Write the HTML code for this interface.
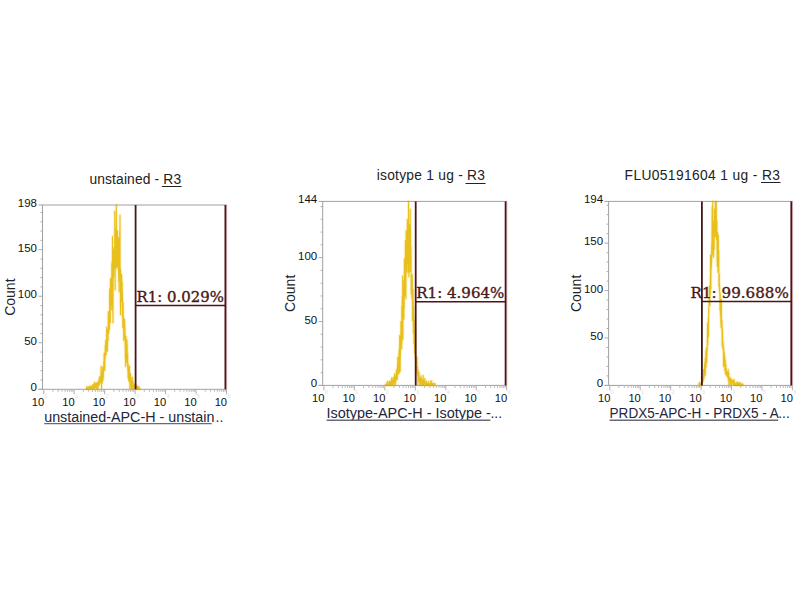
<!DOCTYPE html>
<html><head><meta charset="utf-8"><title>Flow cytometry histograms</title>
<style>
html,body{margin:0;padding:0;background:#fff;}
body{width:800px;height:600px;overflow:hidden;}
svg{display:block;}
.t{font-family:"Liberation Sans",Arial,sans-serif;}
.s{font-family:"DejaVu Serif","Liberation Serif",serif;}
</style></head><body>
<svg width="800" height="600" viewBox="0 0 800 600">
<rect width="800" height="600" fill="#fff"/>
<g><text class="t" x="89.4" y="183.6" font-size="13.8" fill="#222" textLength="91.7" lengthAdjust="spacing">unstained - R3</text>
<line x1="161.9" y1="186.5" x2="181.6" y2="186.5" stroke="#222" stroke-width="1"/>
<polyline points="86.1,389.0 86.2,388.8 86.3,388.2 86.5,389.3 86.6,388.3 86.7,388.3 86.8,386.6 87.0,389.2 87.1,389.3 87.2,388.1 87.3,389.2 87.5,388.5 87.6,388.6 87.7,387.5 87.8,389.3 88.0,388.8 88.1,389.3 88.2,389.3 88.3,386.9 88.5,389.3 88.6,389.3 88.7,389.3 88.8,387.9 89.0,388.3 89.1,389.3 89.2,387.7 89.3,388.2 89.5,387.5 89.6,389.3 89.7,386.1 89.8,387.8 90.0,388.5 90.1,389.1 90.2,388.7 90.3,387.1 90.5,388.7 90.6,386.6 90.7,387.3 90.8,386.1 91.0,386.9 91.1,388.2 91.2,389.3 91.3,387.6 91.5,386.7 91.6,387.7 91.7,387.0 91.8,388.7 92.0,388.5 92.1,389.3 92.2,385.4 92.3,387.5 92.5,388.6 92.6,389.3 92.7,387.9 92.8,384.9 93.0,386.7 93.1,388.9 93.2,384.6 93.3,384.6 93.5,385.4 93.6,385.7 93.7,384.9 93.8,386.1 94.0,385.5 94.1,388.8 94.2,383.8 94.3,386.5 94.5,382.4 94.6,389.3 94.7,385.2 94.8,384.4 95.0,387.5 95.1,385.5 95.2,384.7 95.3,385.0 95.5,387.7 95.6,386.6 95.7,383.6 95.8,382.8 96.0,385.8 96.1,385.7 96.2,385.3 96.3,382.9 96.5,388.6 96.6,389.3 96.7,385.1 96.8,388.5 97.0,386.9 97.1,384.9 97.2,383.6 97.3,388.1 97.5,382.3 97.6,389.3 97.7,382.8 97.8,389.3 98.0,388.4 98.1,381.9 98.2,385.3 98.3,386.5 98.5,385.1 98.6,381.8 98.7,383.4 98.8,383.2 99.0,379.0 99.1,385.4 99.2,384.3 99.3,384.3 99.5,377.5 99.6,377.9 99.7,376.5 99.8,381.5 100.0,381.8 100.1,377.3 100.2,382.3 100.3,376.7 100.5,376.9 100.6,382.9 100.7,379.8 100.8,379.7 101.0,370.7 101.1,366.2 101.2,378.6 101.3,377.7 101.5,388.8 101.6,375.9 101.7,376.7 101.8,381.8 102.0,371.6 102.1,383.8 102.2,376.1 102.3,373.6 102.5,381.0 102.6,368.5 102.7,366.7 102.8,380.6 103.0,380.3 103.1,367.5 103.2,370.8 103.3,377.7 103.5,371.3 103.6,369.5 103.7,369.0 103.8,361.8 104.0,364.1 104.1,353.6 104.2,355.5 104.3,359.6 104.5,355.8 104.6,353.0 104.7,356.7 104.8,370.6 105.0,353.6 105.1,358.8 105.2,345.5 105.3,356.7 105.5,352.2 105.6,352.8 105.7,340.2 105.8,352.0 106.0,354.8 106.1,348.6 106.2,354.2 106.3,347.6 106.5,348.0 106.6,344.2 106.7,327.1 106.8,348.2 107.0,342.7 107.1,343.8 107.2,333.7 107.3,351.3 107.5,345.0 107.6,336.9 107.7,329.2 107.8,334.2 108.0,337.7 108.1,340.4 108.2,323.6 108.3,311.5 108.5,322.6 108.6,322.7 108.7,318.1 108.8,333.0 109.0,324.0 109.1,321.9 109.2,313.4 109.3,315.9 109.5,329.1 109.6,297.9 109.7,288.9 109.8,312.4 110.0,302.1 110.1,302.2 110.2,293.6 110.3,322.4 110.5,278.8 110.6,305.6 110.7,280.0 110.8,294.7 111.0,299.7 111.1,294.6 111.2,278.1 111.3,301.9 111.5,293.3 111.6,293.3 111.7,310.0 111.8,263.7 112.0,272.9 112.1,280.4 112.2,260.8 112.3,291.7 112.5,236.6 112.6,247.4 112.7,257.5 112.8,306.4 113.0,322.7 113.1,285.3 113.2,250.5 113.3,273.8 113.5,268.6 113.6,254.0 113.7,277.2 113.8,258.2 114.0,247.6 114.1,251.9 114.2,252.1 114.3,267.7 114.5,248.3 114.6,263.1 114.7,233.3 114.8,211.3 115.0,266.3 115.1,289.9 115.2,259.8 115.3,245.6 115.5,233.7 115.6,232.8 115.7,264.1 115.8,264.0 116.0,228.5 116.1,268.6 116.2,231.2 116.3,205.0 116.5,236.6 116.6,237.6 116.7,236.5 116.8,235.9 117.0,267.0 117.1,245.3 117.2,250.5 117.3,245.9 117.5,230.7 117.6,256.7 117.7,264.8 117.8,265.7 118.0,259.3 118.1,242.2 118.2,269.3 118.3,237.2 118.5,252.7 118.6,262.2 118.7,281.5 118.8,256.6 119.0,250.4 119.1,291.7 119.2,244.9 119.3,238.9 119.5,261.4 119.6,260.3 119.7,231.3 119.8,251.6 120.0,215.2 120.1,274.2 120.2,277.9 120.3,279.4 120.5,314.7 120.6,268.9 120.7,291.5 120.8,281.2 121.0,287.4 121.1,274.3 121.2,293.1 121.3,302.0 121.5,284.7 121.6,274.2 121.7,300.3 121.8,278.7 122.0,295.8 122.1,308.5 122.2,282.5 122.3,315.7 122.5,293.3 122.6,314.9 122.7,304.4 122.8,327.7 123.0,324.3 123.1,302.3 123.2,314.9 123.3,318.5 123.5,326.0 123.6,317.1 123.7,340.4 123.8,338.7 124.0,329.2 124.1,338.5 124.2,338.5 124.3,333.1 124.5,335.4 124.6,337.8 124.7,319.5 124.8,328.1 125.0,327.5 125.1,341.7 125.2,347.8 125.3,358.4 125.5,349.0 125.6,366.6 125.7,353.7 125.8,342.7 126.0,336.4 126.1,343.6 126.2,360.8 126.3,350.3 126.5,362.3 126.6,350.1 126.7,358.8 126.8,352.2 127.0,339.9 127.1,354.0 127.2,344.5 127.3,361.7 127.5,366.4 127.6,355.4 127.7,353.7 127.8,370.5 128.0,367.0 128.1,377.8 128.2,370.4 128.3,364.2 128.5,371.1 128.6,374.8 128.7,380.5 128.8,370.5 129.0,368.7 129.1,370.5 129.2,373.1 129.3,382.1 129.5,366.3 129.6,376.5 129.7,377.5 129.8,373.6 130.0,388.4 130.1,378.5 130.2,379.3 130.3,377.4 130.5,373.4 130.6,377.8 130.7,388.2 130.8,382.1 131.0,380.2 131.1,380.8 131.2,386.8 131.3,388.5 131.5,380.2 131.6,381.3 131.7,383.0 131.8,389.3 132.0,377.2 132.1,389.3 132.2,385.1 132.3,377.2 132.5,384.8 132.6,383.8 132.7,388.4 132.8,380.8 133.0,388.9 133.1,384.6 133.2,385.1 133.3,388.5 133.5,383.4 133.6,389.3 133.7,387.8 133.8,386.3 134.0,387.4 134.1,385.3 134.2,384.4 134.4,387.4 134.5,388.0 134.6,388.1 134.7,387.8 134.9,385.4 135.0,387.6 135.1,386.4 135.2,387.5 135.4,389.1 135.5,385.9 135.6,389.3 135.7,387.7 135.9,385.0 136.0,389.3 136.1,388.0 136.2,389.3 136.4,388.8 136.5,389.3 136.6,388.7 136.7,389.0 136.9,388.0 137.0,385.8 137.1,387.9 137.2,387.4 137.4,388.4 137.5,388.7 137.6,389.3 137.7,389.3 137.9,388.4 138.0,386.5 138.1,388.0 138.2,389.2 138.4,386.7 138.5,389.2 138.6,389.3 138.7,389.3 138.9,389.3 139.0,389.0 139.1,386.7 139.2,389.0 139.4,389.3 139.5,389.3 139.6,389.1 139.7,389.3 139.9,388.8 140.0,388.3 140.1,388.6" fill="none" stroke="#f8e27c" stroke-width="3" stroke-linejoin="round" opacity="0.45"/>
<polyline points="86.1,389.0 86.2,388.8 86.3,388.2 86.5,389.3 86.6,388.3 86.7,388.3 86.8,386.6 87.0,389.2 87.1,389.3 87.2,388.1 87.3,389.2 87.5,388.5 87.6,388.6 87.7,387.5 87.8,389.3 88.0,388.8 88.1,389.3 88.2,389.3 88.3,386.9 88.5,389.3 88.6,389.3 88.7,389.3 88.8,387.9 89.0,388.3 89.1,389.3 89.2,387.7 89.3,388.2 89.5,387.5 89.6,389.3 89.7,386.1 89.8,387.8 90.0,388.5 90.1,389.1 90.2,388.7 90.3,387.1 90.5,388.7 90.6,386.6 90.7,387.3 90.8,386.1 91.0,386.9 91.1,388.2 91.2,389.3 91.3,387.6 91.5,386.7 91.6,387.7 91.7,387.0 91.8,388.7 92.0,388.5 92.1,389.3 92.2,385.4 92.3,387.5 92.5,388.6 92.6,389.3 92.7,387.9 92.8,384.9 93.0,386.7 93.1,388.9 93.2,384.6 93.3,384.6 93.5,385.4 93.6,385.7 93.7,384.9 93.8,386.1 94.0,385.5 94.1,388.8 94.2,383.8 94.3,386.5 94.5,382.4 94.6,389.3 94.7,385.2 94.8,384.4 95.0,387.5 95.1,385.5 95.2,384.7 95.3,385.0 95.5,387.7 95.6,386.6 95.7,383.6 95.8,382.8 96.0,385.8 96.1,385.7 96.2,385.3 96.3,382.9 96.5,388.6 96.6,389.3 96.7,385.1 96.8,388.5 97.0,386.9 97.1,384.9 97.2,383.6 97.3,388.1 97.5,382.3 97.6,389.3 97.7,382.8 97.8,389.3 98.0,388.4 98.1,381.9 98.2,385.3 98.3,386.5 98.5,385.1 98.6,381.8 98.7,383.4 98.8,383.2 99.0,379.0 99.1,385.4 99.2,384.3 99.3,384.3 99.5,377.5 99.6,377.9 99.7,376.5 99.8,381.5 100.0,381.8 100.1,377.3 100.2,382.3 100.3,376.7 100.5,376.9 100.6,382.9 100.7,379.8 100.8,379.7 101.0,370.7 101.1,366.2 101.2,378.6 101.3,377.7 101.5,388.8 101.6,375.9 101.7,376.7 101.8,381.8 102.0,371.6 102.1,383.8 102.2,376.1 102.3,373.6 102.5,381.0 102.6,368.5 102.7,366.7 102.8,380.6 103.0,380.3 103.1,367.5 103.2,370.8 103.3,377.7 103.5,371.3 103.6,369.5 103.7,369.0 103.8,361.8 104.0,364.1 104.1,353.6 104.2,355.5 104.3,359.6 104.5,355.8 104.6,353.0 104.7,356.7 104.8,370.6 105.0,353.6 105.1,358.8 105.2,345.5 105.3,356.7 105.5,352.2 105.6,352.8 105.7,340.2 105.8,352.0 106.0,354.8 106.1,348.6 106.2,354.2 106.3,347.6 106.5,348.0 106.6,344.2 106.7,327.1 106.8,348.2 107.0,342.7 107.1,343.8 107.2,333.7 107.3,351.3 107.5,345.0 107.6,336.9 107.7,329.2 107.8,334.2 108.0,337.7 108.1,340.4 108.2,323.6 108.3,311.5 108.5,322.6 108.6,322.7 108.7,318.1 108.8,333.0 109.0,324.0 109.1,321.9 109.2,313.4 109.3,315.9 109.5,329.1 109.6,297.9 109.7,288.9 109.8,312.4 110.0,302.1 110.1,302.2 110.2,293.6 110.3,322.4 110.5,278.8 110.6,305.6 110.7,280.0 110.8,294.7 111.0,299.7 111.1,294.6 111.2,278.1 111.3,301.9 111.5,293.3 111.6,293.3 111.7,310.0 111.8,263.7 112.0,272.9 112.1,280.4 112.2,260.8 112.3,291.7 112.5,236.6 112.6,247.4 112.7,257.5 112.8,306.4 113.0,322.7 113.1,285.3 113.2,250.5 113.3,273.8 113.5,268.6 113.6,254.0 113.7,277.2 113.8,258.2 114.0,247.6 114.1,251.9 114.2,252.1 114.3,267.7 114.5,248.3 114.6,263.1 114.7,233.3 114.8,211.3 115.0,266.3 115.1,289.9 115.2,259.8 115.3,245.6 115.5,233.7 115.6,232.8 115.7,264.1 115.8,264.0 116.0,228.5 116.1,268.6 116.2,231.2 116.3,205.0 116.5,236.6 116.6,237.6 116.7,236.5 116.8,235.9 117.0,267.0 117.1,245.3 117.2,250.5 117.3,245.9 117.5,230.7 117.6,256.7 117.7,264.8 117.8,265.7 118.0,259.3 118.1,242.2 118.2,269.3 118.3,237.2 118.5,252.7 118.6,262.2 118.7,281.5 118.8,256.6 119.0,250.4 119.1,291.7 119.2,244.9 119.3,238.9 119.5,261.4 119.6,260.3 119.7,231.3 119.8,251.6 120.0,215.2 120.1,274.2 120.2,277.9 120.3,279.4 120.5,314.7 120.6,268.9 120.7,291.5 120.8,281.2 121.0,287.4 121.1,274.3 121.2,293.1 121.3,302.0 121.5,284.7 121.6,274.2 121.7,300.3 121.8,278.7 122.0,295.8 122.1,308.5 122.2,282.5 122.3,315.7 122.5,293.3 122.6,314.9 122.7,304.4 122.8,327.7 123.0,324.3 123.1,302.3 123.2,314.9 123.3,318.5 123.5,326.0 123.6,317.1 123.7,340.4 123.8,338.7 124.0,329.2 124.1,338.5 124.2,338.5 124.3,333.1 124.5,335.4 124.6,337.8 124.7,319.5 124.8,328.1 125.0,327.5 125.1,341.7 125.2,347.8 125.3,358.4 125.5,349.0 125.6,366.6 125.7,353.7 125.8,342.7 126.0,336.4 126.1,343.6 126.2,360.8 126.3,350.3 126.5,362.3 126.6,350.1 126.7,358.8 126.8,352.2 127.0,339.9 127.1,354.0 127.2,344.5 127.3,361.7 127.5,366.4 127.6,355.4 127.7,353.7 127.8,370.5 128.0,367.0 128.1,377.8 128.2,370.4 128.3,364.2 128.5,371.1 128.6,374.8 128.7,380.5 128.8,370.5 129.0,368.7 129.1,370.5 129.2,373.1 129.3,382.1 129.5,366.3 129.6,376.5 129.7,377.5 129.8,373.6 130.0,388.4 130.1,378.5 130.2,379.3 130.3,377.4 130.5,373.4 130.6,377.8 130.7,388.2 130.8,382.1 131.0,380.2 131.1,380.8 131.2,386.8 131.3,388.5 131.5,380.2 131.6,381.3 131.7,383.0 131.8,389.3 132.0,377.2 132.1,389.3 132.2,385.1 132.3,377.2 132.5,384.8 132.6,383.8 132.7,388.4 132.8,380.8 133.0,388.9 133.1,384.6 133.2,385.1 133.3,388.5 133.5,383.4 133.6,389.3 133.7,387.8 133.8,386.3 134.0,387.4 134.1,385.3 134.2,384.4 134.4,387.4 134.5,388.0 134.6,388.1 134.7,387.8 134.9,385.4 135.0,387.6 135.1,386.4 135.2,387.5 135.4,389.1 135.5,385.9 135.6,389.3 135.7,387.7 135.9,385.0 136.0,389.3 136.1,388.0 136.2,389.3 136.4,388.8 136.5,389.3 136.6,388.7 136.7,389.0 136.9,388.0 137.0,385.8 137.1,387.9 137.2,387.4 137.4,388.4 137.5,388.7 137.6,389.3 137.7,389.3 137.9,388.4 138.0,386.5 138.1,388.0 138.2,389.2 138.4,386.7 138.5,389.2 138.6,389.3 138.7,389.3 138.9,389.3 139.0,389.0 139.1,386.7 139.2,389.0 139.4,389.3 139.5,389.3 139.6,389.1 139.7,389.3 139.9,388.8 140.0,388.3 140.1,388.6" fill="none" stroke="#e8bf1c" stroke-width="1.05" stroke-linejoin="round"/>
<line x1="38.5" y1="205" x2="226.9" y2="205" stroke="#a0a0a0" stroke-width="1"/>
<line x1="42.5" y1="205" x2="42.5" y2="389.3" stroke="#a0a0a0" stroke-width="1"/>
<line x1="38.5" y1="389.3" x2="226.7" y2="389.3" stroke="#a0a0a0" stroke-width="1"/>
<line x1="38.5" y1="389.3" x2="42.5" y2="389.3" stroke="#aaa" stroke-width="1"/>
<line x1="40.5" y1="379.99" x2="42.5" y2="379.99" stroke="#aaa" stroke-width="1"/>
<line x1="40.5" y1="370.68" x2="42.5" y2="370.68" stroke="#aaa" stroke-width="1"/>
<line x1="40.5" y1="361.38" x2="42.5" y2="361.38" stroke="#aaa" stroke-width="1"/>
<line x1="40.5" y1="352.07" x2="42.5" y2="352.07" stroke="#aaa" stroke-width="1"/>
<line x1="38.5" y1="342.76" x2="42.5" y2="342.76" stroke="#aaa" stroke-width="1"/>
<line x1="40.5" y1="333.45" x2="42.5" y2="333.45" stroke="#aaa" stroke-width="1"/>
<line x1="40.5" y1="324.14" x2="42.5" y2="324.14" stroke="#aaa" stroke-width="1"/>
<line x1="40.5" y1="314.84" x2="42.5" y2="314.84" stroke="#aaa" stroke-width="1"/>
<line x1="40.5" y1="305.53" x2="42.5" y2="305.53" stroke="#aaa" stroke-width="1"/>
<line x1="38.5" y1="296.22" x2="42.5" y2="296.22" stroke="#aaa" stroke-width="1"/>
<line x1="40.5" y1="286.91" x2="42.5" y2="286.91" stroke="#aaa" stroke-width="1"/>
<line x1="40.5" y1="277.6" x2="42.5" y2="277.6" stroke="#aaa" stroke-width="1"/>
<line x1="40.5" y1="268.29" x2="42.5" y2="268.29" stroke="#aaa" stroke-width="1"/>
<line x1="40.5" y1="258.99" x2="42.5" y2="258.99" stroke="#aaa" stroke-width="1"/>
<line x1="38.5" y1="249.68" x2="42.5" y2="249.68" stroke="#aaa" stroke-width="1"/>
<line x1="40.5" y1="240.37" x2="42.5" y2="240.37" stroke="#aaa" stroke-width="1"/>
<line x1="40.5" y1="231.06" x2="42.5" y2="231.06" stroke="#aaa" stroke-width="1"/>
<line x1="40.5" y1="221.75" x2="42.5" y2="221.75" stroke="#aaa" stroke-width="1"/>
<line x1="40.5" y1="212.45" x2="42.5" y2="212.45" stroke="#aaa" stroke-width="1"/>
<text class="t" x="37" y="391.3" font-size="11.5" fill="#111" text-anchor="end">0</text>
<text class="t" x="37" y="344.76" font-size="11.5" fill="#111" text-anchor="end">50</text>
<text class="t" x="37" y="298.22" font-size="11.5" fill="#111" text-anchor="end">100</text>
<text class="t" x="37" y="251.68" font-size="11.5" fill="#111" text-anchor="end">150</text>
<text class="t" x="37" y="207" font-size="11.5" fill="#111" text-anchor="end">198</text>
<line x1="43.7" y1="389.3" x2="43.7" y2="394.3" stroke="#b0b0b0" stroke-width="1"/>
<text class="t" x="44.3" y="405.5" font-size="11.2" fill="#111" text-anchor="end">10</text>
<text class="t" x="44.7" y="398.3" font-size="5" fill="#dcdcdc">0</text>
<line x1="52.87" y1="389.3" x2="52.87" y2="391.8" stroke="#b8b8b8" stroke-width="1"/>
<line x1="58.24" y1="389.3" x2="58.24" y2="391.8" stroke="#b8b8b8" stroke-width="1"/>
<line x1="62.04" y1="389.3" x2="62.04" y2="391.8" stroke="#b8b8b8" stroke-width="1"/>
<line x1="65" y1="389.3" x2="65" y2="391.8" stroke="#b8b8b8" stroke-width="1"/>
<line x1="67.41" y1="389.3" x2="67.41" y2="391.8" stroke="#b8b8b8" stroke-width="1"/>
<line x1="69.45" y1="389.3" x2="69.45" y2="391.8" stroke="#b8b8b8" stroke-width="1"/>
<line x1="71.21" y1="389.3" x2="71.21" y2="391.8" stroke="#b8b8b8" stroke-width="1"/>
<line x1="72.77" y1="389.3" x2="72.77" y2="391.8" stroke="#b8b8b8" stroke-width="1"/>
<line x1="74.17" y1="389.3" x2="74.17" y2="394.3" stroke="#b0b0b0" stroke-width="1"/>
<text class="t" x="74.77" y="405.5" font-size="11.2" fill="#111" text-anchor="end">10</text>
<text class="t" x="75.17" y="398.3" font-size="5" fill="#dcdcdc">1</text>
<line x1="83.34" y1="389.3" x2="83.34" y2="391.8" stroke="#b8b8b8" stroke-width="1"/>
<line x1="88.7" y1="389.3" x2="88.7" y2="391.8" stroke="#b8b8b8" stroke-width="1"/>
<line x1="92.51" y1="389.3" x2="92.51" y2="391.8" stroke="#b8b8b8" stroke-width="1"/>
<line x1="95.46" y1="389.3" x2="95.46" y2="391.8" stroke="#b8b8b8" stroke-width="1"/>
<line x1="97.87" y1="389.3" x2="97.87" y2="391.8" stroke="#b8b8b8" stroke-width="1"/>
<line x1="99.91" y1="389.3" x2="99.91" y2="391.8" stroke="#b8b8b8" stroke-width="1"/>
<line x1="101.68" y1="389.3" x2="101.68" y2="391.8" stroke="#b8b8b8" stroke-width="1"/>
<line x1="103.24" y1="389.3" x2="103.24" y2="391.8" stroke="#b8b8b8" stroke-width="1"/>
<line x1="104.63" y1="389.3" x2="104.63" y2="394.3" stroke="#b0b0b0" stroke-width="1"/>
<text class="t" x="105.23" y="405.5" font-size="11.2" fill="#111" text-anchor="end">10</text>
<text class="t" x="105.63" y="398.3" font-size="5" fill="#dcdcdc">2</text>
<line x1="113.8" y1="389.3" x2="113.8" y2="391.8" stroke="#b8b8b8" stroke-width="1"/>
<line x1="119.17" y1="389.3" x2="119.17" y2="391.8" stroke="#b8b8b8" stroke-width="1"/>
<line x1="122.98" y1="389.3" x2="122.98" y2="391.8" stroke="#b8b8b8" stroke-width="1"/>
<line x1="125.93" y1="389.3" x2="125.93" y2="391.8" stroke="#b8b8b8" stroke-width="1"/>
<line x1="128.34" y1="389.3" x2="128.34" y2="391.8" stroke="#b8b8b8" stroke-width="1"/>
<line x1="130.38" y1="389.3" x2="130.38" y2="391.8" stroke="#b8b8b8" stroke-width="1"/>
<line x1="132.15" y1="389.3" x2="132.15" y2="391.8" stroke="#b8b8b8" stroke-width="1"/>
<line x1="133.71" y1="389.3" x2="133.71" y2="391.8" stroke="#b8b8b8" stroke-width="1"/>
<line x1="135.1" y1="389.3" x2="135.1" y2="394.3" stroke="#b0b0b0" stroke-width="1"/>
<text class="t" x="135.7" y="405.5" font-size="11.2" fill="#111" text-anchor="end">10</text>
<text class="t" x="136.1" y="398.3" font-size="5" fill="#dcdcdc">3</text>
<line x1="144.27" y1="389.3" x2="144.27" y2="391.8" stroke="#b8b8b8" stroke-width="1"/>
<line x1="149.64" y1="389.3" x2="149.64" y2="391.8" stroke="#b8b8b8" stroke-width="1"/>
<line x1="153.44" y1="389.3" x2="153.44" y2="391.8" stroke="#b8b8b8" stroke-width="1"/>
<line x1="156.4" y1="389.3" x2="156.4" y2="391.8" stroke="#b8b8b8" stroke-width="1"/>
<line x1="158.81" y1="389.3" x2="158.81" y2="391.8" stroke="#b8b8b8" stroke-width="1"/>
<line x1="160.85" y1="389.3" x2="160.85" y2="391.8" stroke="#b8b8b8" stroke-width="1"/>
<line x1="162.61" y1="389.3" x2="162.61" y2="391.8" stroke="#b8b8b8" stroke-width="1"/>
<line x1="164.17" y1="389.3" x2="164.17" y2="391.8" stroke="#b8b8b8" stroke-width="1"/>
<line x1="165.57" y1="389.3" x2="165.57" y2="394.3" stroke="#b0b0b0" stroke-width="1"/>
<text class="t" x="166.17" y="405.5" font-size="11.2" fill="#111" text-anchor="end">10</text>
<text class="t" x="166.57" y="398.3" font-size="5" fill="#dcdcdc">4</text>
<line x1="174.74" y1="389.3" x2="174.74" y2="391.8" stroke="#b8b8b8" stroke-width="1"/>
<line x1="180.1" y1="389.3" x2="180.1" y2="391.8" stroke="#b8b8b8" stroke-width="1"/>
<line x1="183.91" y1="389.3" x2="183.91" y2="391.8" stroke="#b8b8b8" stroke-width="1"/>
<line x1="186.86" y1="389.3" x2="186.86" y2="391.8" stroke="#b8b8b8" stroke-width="1"/>
<line x1="189.27" y1="389.3" x2="189.27" y2="391.8" stroke="#b8b8b8" stroke-width="1"/>
<line x1="191.31" y1="389.3" x2="191.31" y2="391.8" stroke="#b8b8b8" stroke-width="1"/>
<line x1="193.08" y1="389.3" x2="193.08" y2="391.8" stroke="#b8b8b8" stroke-width="1"/>
<line x1="194.64" y1="389.3" x2="194.64" y2="391.8" stroke="#b8b8b8" stroke-width="1"/>
<line x1="196.03" y1="389.3" x2="196.03" y2="394.3" stroke="#b0b0b0" stroke-width="1"/>
<text class="t" x="196.63" y="405.5" font-size="11.2" fill="#111" text-anchor="end">10</text>
<text class="t" x="197.03" y="398.3" font-size="5" fill="#dcdcdc">5</text>
<line x1="205.2" y1="389.3" x2="205.2" y2="391.8" stroke="#b8b8b8" stroke-width="1"/>
<line x1="210.57" y1="389.3" x2="210.57" y2="391.8" stroke="#b8b8b8" stroke-width="1"/>
<line x1="214.38" y1="389.3" x2="214.38" y2="391.8" stroke="#b8b8b8" stroke-width="1"/>
<line x1="217.33" y1="389.3" x2="217.33" y2="391.8" stroke="#b8b8b8" stroke-width="1"/>
<line x1="219.74" y1="389.3" x2="219.74" y2="391.8" stroke="#b8b8b8" stroke-width="1"/>
<line x1="221.78" y1="389.3" x2="221.78" y2="391.8" stroke="#b8b8b8" stroke-width="1"/>
<line x1="223.55" y1="389.3" x2="223.55" y2="391.8" stroke="#b8b8b8" stroke-width="1"/>
<line x1="225.11" y1="389.3" x2="225.11" y2="391.8" stroke="#b8b8b8" stroke-width="1"/>
<line x1="226.5" y1="389.3" x2="226.5" y2="394.3" stroke="#b0b0b0" stroke-width="1"/>
<text class="t" x="227.1" y="405.5" font-size="11.2" fill="#111" text-anchor="end">10</text>
<text class="t" x="227.5" y="398.3" font-size="5" fill="#dcdcdc">6</text>
<text class="t" transform="translate(14.5,297.15) rotate(-90)" font-size="14" fill="#222" text-anchor="middle">Count</text>
<text class="t" x="44.2" y="421.7" font-size="14" fill="#24243c" textLength="170.2" lengthAdjust="spacingAndGlyphs">unstained-APC-H - unstain</text>
<text class="t" x="215.6" y="421.7" font-size="14" fill="#2a2a44">..</text>
<line x1="44.2" y1="423.6" x2="211.7" y2="423.6" stroke="#6a6a74" stroke-width="1.4"/>
<line x1="226.7" y1="205" x2="226.7" y2="389.3" stroke="#e6c0c4" stroke-width="1"/>
<line x1="135.6" y1="205" x2="135.6" y2="389.3" stroke="#4c1419" stroke-width="1.8"/>
<line x1="225.4" y1="205" x2="225.4" y2="389.3" stroke="#4c1419" stroke-width="1.8"/>
<line x1="135.6" y1="305.4" x2="225.7" y2="305.4" stroke="#4c1419" stroke-width="1.5"/>
<text class="s" x="136.6" y="301.7" font-size="14.1" fill="#4c1818" stroke="#4c1818" stroke-width="0.35" textLength="87.4" lengthAdjust="spacingAndGlyphs">R1: 0.029%</text></g>
<g><text class="t" x="376.7" y="180.4" font-size="13.8" fill="#222" textLength="108.3" lengthAdjust="spacing">isotype 1 ug - R3</text>
<line x1="465.5" y1="183.5" x2="485.5" y2="183.5" stroke="#222" stroke-width="1"/>
<polyline points="385.3,385.4 385.4,385.0 385.5,384.5 385.7,385.4 385.8,384.7 385.9,384.5 386.0,385.0 386.2,384.4 386.3,384.1 386.4,385.4 386.5,384.1 386.7,385.0 386.8,385.4 386.9,384.3 387.0,382.4 387.2,385.4 387.3,385.4 387.4,385.4 387.5,381.4 387.7,384.8 387.8,384.5 387.9,385.4 388.0,385.4 388.2,385.4 388.3,384.0 388.4,383.8 388.5,385.4 388.7,385.4 388.8,385.4 388.9,384.1 389.0,383.6 389.2,381.8 389.3,381.3 389.4,381.8 389.5,381.2 389.7,385.4 389.8,384.9 389.9,381.3 390.0,383.0 390.2,383.5 390.3,385.4 390.4,385.4 390.5,381.8 390.7,382.6 390.8,384.0 390.9,384.2 391.0,385.4 391.2,382.2 391.3,380.5 391.4,378.8 391.5,382.7 391.7,383.3 391.8,385.4 391.9,379.4 392.0,377.9 392.2,384.1 392.3,381.5 392.4,382.0 392.5,383.8 392.7,385.4 392.8,383.0 392.9,380.0 393.0,385.4 393.2,384.2 393.3,385.4 393.4,377.2 393.5,379.6 393.7,380.9 393.8,381.8 393.9,382.9 394.0,380.9 394.2,381.5 394.3,381.1 394.4,380.2 394.5,379.4 394.7,373.8 394.8,385.0 394.9,378.2 395.0,381.5 395.2,383.4 395.3,385.4 395.4,375.7 395.5,382.2 395.7,381.0 395.8,375.3 395.9,382.0 396.0,376.6 396.2,376.7 396.3,372.1 396.4,370.6 396.5,379.6 396.7,370.1 396.8,374.9 396.9,373.2 397.0,374.6 397.2,368.5 397.3,379.3 397.4,370.3 397.5,364.2 397.7,372.3 397.8,357.3 397.9,374.0 398.0,367.2 398.2,371.1 398.3,371.3 398.4,374.1 398.5,369.3 398.7,365.0 398.8,369.7 398.9,356.2 399.0,350.2 399.2,372.9 399.3,353.2 399.4,357.2 399.5,355.6 399.7,335.5 399.8,344.8 399.9,351.1 400.0,351.1 400.2,371.4 400.3,342.8 400.4,355.8 400.5,345.5 400.7,344.7 400.8,334.4 400.9,321.6 401.0,330.6 401.2,325.7 401.3,340.2 401.4,330.9 401.5,325.5 401.7,349.0 401.8,306.6 401.9,337.2 402.0,342.2 402.2,304.7 402.3,296.3 402.4,329.8 402.5,326.7 402.7,275.9 402.8,313.1 402.9,339.3 403.0,318.8 403.2,280.4 403.3,296.8 403.4,293.2 403.5,284.0 403.7,289.6 403.8,302.3 403.9,319.1 404.0,286.2 404.2,308.0 404.3,289.5 404.4,258.8 404.5,275.7 404.7,281.2 404.8,279.0 404.9,266.0 405.0,260.7 405.2,295.9 405.3,268.8 405.4,240.8 405.5,255.2 405.7,279.5 405.8,276.3 405.9,298.8 406.0,275.0 406.2,230.8 406.3,259.1 406.4,271.7 406.5,265.3 406.7,255.6 406.8,254.2 406.9,257.6 407.0,264.1 407.2,237.2 407.3,219.4 407.4,257.7 407.5,256.5 407.7,223.4 407.8,272.5 407.9,255.7 408.0,251.3 408.2,240.7 408.3,248.9 408.4,260.3 408.5,201.4 408.7,259.7 408.8,270.7 408.9,276.7 409.0,224.0 409.2,272.5 409.3,231.7 409.4,228.7 409.5,227.4 409.7,247.4 409.8,256.0 409.9,245.8 410.0,260.2 410.2,209.1 410.3,230.4 410.4,271.5 410.5,225.6 410.7,250.9 410.8,270.4 410.9,257.4 411.0,246.5 411.2,293.7 411.3,288.5 411.4,293.1 411.5,275.8 411.7,274.8 411.8,283.8 411.9,298.5 412.0,298.2 412.2,274.8 412.3,279.1 412.4,296.8 412.5,320.6 412.7,295.5 412.8,303.2 412.9,306.6 413.0,289.5 413.2,304.7 413.3,330.9 413.4,333.1 413.5,306.2 413.7,323.5 413.8,317.8 413.9,332.1 414.0,344.0 414.2,331.8 414.3,320.0 414.4,335.6 414.6,353.0 414.7,346.4 414.8,350.1 414.9,345.3 415.1,339.1 415.2,332.2 415.3,350.1 415.4,357.5 415.6,354.6 415.7,356.6 415.8,361.6 415.9,359.3 416.1,360.8 416.2,370.8 416.3,359.1 416.4,366.9 416.6,372.2 416.7,363.0 416.8,370.5 416.9,357.0 417.1,366.1 417.2,369.4 417.3,375.2 417.4,373.8 417.6,367.3 417.7,376.5 417.8,369.3 417.9,385.0 418.1,373.5 418.2,370.9 418.3,373.8 418.4,376.0 418.6,371.7 418.7,380.7 418.8,381.5 418.9,377.1 419.1,372.7 419.2,376.4 419.3,379.3 419.4,377.5 419.6,377.3 419.7,384.0 419.8,385.4 419.9,383.5 420.1,385.3 420.2,382.2 420.3,384.5 420.4,383.5 420.6,379.2 420.7,380.5 420.8,381.1 420.9,375.8 421.1,382.7 421.2,382.5 421.3,377.7 421.4,384.9 421.6,385.4 421.7,378.0 421.8,381.0 421.9,380.3 422.1,380.3 422.2,379.7 422.3,383.5 422.4,382.5 422.6,385.3 422.7,382.1 422.8,382.0 422.9,383.8 423.1,381.0 423.2,375.5 423.3,385.4 423.4,380.9 423.6,380.7 423.7,380.5 423.8,384.9 423.9,380.4 424.1,381.6 424.2,383.4 424.3,383.9 424.4,382.7 424.6,381.3 424.7,381.4 424.8,378.6 424.9,384.1 425.1,382.2 425.2,384.3 425.3,381.9 425.4,383.3 425.6,384.7 425.7,385.4 425.8,385.1 425.9,383.2 426.1,380.9 426.2,382.3 426.3,385.4 426.4,384.7 426.6,383.7 426.7,384.1 426.8,383.8 426.9,382.6 427.1,383.6 427.2,385.2 427.3,385.4 427.4,384.7 427.6,385.4 427.7,384.4 427.8,383.7 427.9,385.4 428.1,384.5 428.2,384.9 428.3,381.3 428.4,383.7 428.6,385.4 428.7,383.7 428.8,383.8 428.9,384.8 429.1,385.1 429.2,383.6 429.3,383.5 429.4,383.9 429.6,385.4 429.7,385.0 429.8,385.4 429.9,385.4 430.1,385.4 430.2,385.4 430.3,385.3 430.4,381.2 430.6,384.0 430.7,385.4 430.8,385.4 430.9,385.4 431.1,385.4 431.2,385.4 431.3,383.8 431.4,385.4 431.6,384.3 431.7,380.7 431.8,384.5 431.9,384.7 432.1,384.4 432.2,385.2 432.3,385.4 432.4,385.2 432.6,383.5 432.7,385.3 432.8,385.4 432.9,385.4 433.1,385.4 433.2,384.9 433.3,384.4 433.4,384.4 433.6,383.5 433.7,385.2 433.8,384.0 433.9,384.6 434.1,384.1 434.2,385.4 434.3,383.5 434.4,385.4 434.6,385.4 434.7,384.1 434.8,385.4 434.9,382.9" fill="none" stroke="#f8e27c" stroke-width="3" stroke-linejoin="round" opacity="0.45"/>
<polyline points="385.3,385.4 385.4,385.0 385.5,384.5 385.7,385.4 385.8,384.7 385.9,384.5 386.0,385.0 386.2,384.4 386.3,384.1 386.4,385.4 386.5,384.1 386.7,385.0 386.8,385.4 386.9,384.3 387.0,382.4 387.2,385.4 387.3,385.4 387.4,385.4 387.5,381.4 387.7,384.8 387.8,384.5 387.9,385.4 388.0,385.4 388.2,385.4 388.3,384.0 388.4,383.8 388.5,385.4 388.7,385.4 388.8,385.4 388.9,384.1 389.0,383.6 389.2,381.8 389.3,381.3 389.4,381.8 389.5,381.2 389.7,385.4 389.8,384.9 389.9,381.3 390.0,383.0 390.2,383.5 390.3,385.4 390.4,385.4 390.5,381.8 390.7,382.6 390.8,384.0 390.9,384.2 391.0,385.4 391.2,382.2 391.3,380.5 391.4,378.8 391.5,382.7 391.7,383.3 391.8,385.4 391.9,379.4 392.0,377.9 392.2,384.1 392.3,381.5 392.4,382.0 392.5,383.8 392.7,385.4 392.8,383.0 392.9,380.0 393.0,385.4 393.2,384.2 393.3,385.4 393.4,377.2 393.5,379.6 393.7,380.9 393.8,381.8 393.9,382.9 394.0,380.9 394.2,381.5 394.3,381.1 394.4,380.2 394.5,379.4 394.7,373.8 394.8,385.0 394.9,378.2 395.0,381.5 395.2,383.4 395.3,385.4 395.4,375.7 395.5,382.2 395.7,381.0 395.8,375.3 395.9,382.0 396.0,376.6 396.2,376.7 396.3,372.1 396.4,370.6 396.5,379.6 396.7,370.1 396.8,374.9 396.9,373.2 397.0,374.6 397.2,368.5 397.3,379.3 397.4,370.3 397.5,364.2 397.7,372.3 397.8,357.3 397.9,374.0 398.0,367.2 398.2,371.1 398.3,371.3 398.4,374.1 398.5,369.3 398.7,365.0 398.8,369.7 398.9,356.2 399.0,350.2 399.2,372.9 399.3,353.2 399.4,357.2 399.5,355.6 399.7,335.5 399.8,344.8 399.9,351.1 400.0,351.1 400.2,371.4 400.3,342.8 400.4,355.8 400.5,345.5 400.7,344.7 400.8,334.4 400.9,321.6 401.0,330.6 401.2,325.7 401.3,340.2 401.4,330.9 401.5,325.5 401.7,349.0 401.8,306.6 401.9,337.2 402.0,342.2 402.2,304.7 402.3,296.3 402.4,329.8 402.5,326.7 402.7,275.9 402.8,313.1 402.9,339.3 403.0,318.8 403.2,280.4 403.3,296.8 403.4,293.2 403.5,284.0 403.7,289.6 403.8,302.3 403.9,319.1 404.0,286.2 404.2,308.0 404.3,289.5 404.4,258.8 404.5,275.7 404.7,281.2 404.8,279.0 404.9,266.0 405.0,260.7 405.2,295.9 405.3,268.8 405.4,240.8 405.5,255.2 405.7,279.5 405.8,276.3 405.9,298.8 406.0,275.0 406.2,230.8 406.3,259.1 406.4,271.7 406.5,265.3 406.7,255.6 406.8,254.2 406.9,257.6 407.0,264.1 407.2,237.2 407.3,219.4 407.4,257.7 407.5,256.5 407.7,223.4 407.8,272.5 407.9,255.7 408.0,251.3 408.2,240.7 408.3,248.9 408.4,260.3 408.5,201.4 408.7,259.7 408.8,270.7 408.9,276.7 409.0,224.0 409.2,272.5 409.3,231.7 409.4,228.7 409.5,227.4 409.7,247.4 409.8,256.0 409.9,245.8 410.0,260.2 410.2,209.1 410.3,230.4 410.4,271.5 410.5,225.6 410.7,250.9 410.8,270.4 410.9,257.4 411.0,246.5 411.2,293.7 411.3,288.5 411.4,293.1 411.5,275.8 411.7,274.8 411.8,283.8 411.9,298.5 412.0,298.2 412.2,274.8 412.3,279.1 412.4,296.8 412.5,320.6 412.7,295.5 412.8,303.2 412.9,306.6 413.0,289.5 413.2,304.7 413.3,330.9 413.4,333.1 413.5,306.2 413.7,323.5 413.8,317.8 413.9,332.1 414.0,344.0 414.2,331.8 414.3,320.0 414.4,335.6 414.6,353.0 414.7,346.4 414.8,350.1 414.9,345.3 415.1,339.1 415.2,332.2 415.3,350.1 415.4,357.5 415.6,354.6 415.7,356.6 415.8,361.6 415.9,359.3 416.1,360.8 416.2,370.8 416.3,359.1 416.4,366.9 416.6,372.2 416.7,363.0 416.8,370.5 416.9,357.0 417.1,366.1 417.2,369.4 417.3,375.2 417.4,373.8 417.6,367.3 417.7,376.5 417.8,369.3 417.9,385.0 418.1,373.5 418.2,370.9 418.3,373.8 418.4,376.0 418.6,371.7 418.7,380.7 418.8,381.5 418.9,377.1 419.1,372.7 419.2,376.4 419.3,379.3 419.4,377.5 419.6,377.3 419.7,384.0 419.8,385.4 419.9,383.5 420.1,385.3 420.2,382.2 420.3,384.5 420.4,383.5 420.6,379.2 420.7,380.5 420.8,381.1 420.9,375.8 421.1,382.7 421.2,382.5 421.3,377.7 421.4,384.9 421.6,385.4 421.7,378.0 421.8,381.0 421.9,380.3 422.1,380.3 422.2,379.7 422.3,383.5 422.4,382.5 422.6,385.3 422.7,382.1 422.8,382.0 422.9,383.8 423.1,381.0 423.2,375.5 423.3,385.4 423.4,380.9 423.6,380.7 423.7,380.5 423.8,384.9 423.9,380.4 424.1,381.6 424.2,383.4 424.3,383.9 424.4,382.7 424.6,381.3 424.7,381.4 424.8,378.6 424.9,384.1 425.1,382.2 425.2,384.3 425.3,381.9 425.4,383.3 425.6,384.7 425.7,385.4 425.8,385.1 425.9,383.2 426.1,380.9 426.2,382.3 426.3,385.4 426.4,384.7 426.6,383.7 426.7,384.1 426.8,383.8 426.9,382.6 427.1,383.6 427.2,385.2 427.3,385.4 427.4,384.7 427.6,385.4 427.7,384.4 427.8,383.7 427.9,385.4 428.1,384.5 428.2,384.9 428.3,381.3 428.4,383.7 428.6,385.4 428.7,383.7 428.8,383.8 428.9,384.8 429.1,385.1 429.2,383.6 429.3,383.5 429.4,383.9 429.6,385.4 429.7,385.0 429.8,385.4 429.9,385.4 430.1,385.4 430.2,385.4 430.3,385.3 430.4,381.2 430.6,384.0 430.7,385.4 430.8,385.4 430.9,385.4 431.1,385.4 431.2,385.4 431.3,383.8 431.4,385.4 431.6,384.3 431.7,380.7 431.8,384.5 431.9,384.7 432.1,384.4 432.2,385.2 432.3,385.4 432.4,385.2 432.6,383.5 432.7,385.3 432.8,385.4 432.9,385.4 433.1,385.4 433.2,384.9 433.3,384.4 433.4,384.4 433.6,383.5 433.7,385.2 433.8,384.0 433.9,384.6 434.1,384.1 434.2,385.4 434.3,383.5 434.4,385.4 434.6,385.4 434.7,384.1 434.8,385.4 434.9,382.9" fill="none" stroke="#e8bf1c" stroke-width="1.05" stroke-linejoin="round"/>
<line x1="318.7" y1="201.4" x2="507.1" y2="201.4" stroke="#a0a0a0" stroke-width="1"/>
<line x1="322.7" y1="201.4" x2="322.7" y2="385.4" stroke="#a0a0a0" stroke-width="1"/>
<line x1="318.7" y1="385.4" x2="506.9" y2="385.4" stroke="#a0a0a0" stroke-width="1"/>
<line x1="318.7" y1="385.4" x2="322.7" y2="385.4" stroke="#aaa" stroke-width="1"/>
<line x1="320.7" y1="372.62" x2="322.7" y2="372.62" stroke="#aaa" stroke-width="1"/>
<line x1="320.7" y1="359.84" x2="322.7" y2="359.84" stroke="#aaa" stroke-width="1"/>
<line x1="320.7" y1="347.07" x2="322.7" y2="347.07" stroke="#aaa" stroke-width="1"/>
<line x1="320.7" y1="334.29" x2="322.7" y2="334.29" stroke="#aaa" stroke-width="1"/>
<line x1="318.7" y1="321.51" x2="322.7" y2="321.51" stroke="#aaa" stroke-width="1"/>
<line x1="320.7" y1="308.73" x2="322.7" y2="308.73" stroke="#aaa" stroke-width="1"/>
<line x1="320.7" y1="295.96" x2="322.7" y2="295.96" stroke="#aaa" stroke-width="1"/>
<line x1="320.7" y1="283.18" x2="322.7" y2="283.18" stroke="#aaa" stroke-width="1"/>
<line x1="320.7" y1="270.4" x2="322.7" y2="270.4" stroke="#aaa" stroke-width="1"/>
<line x1="318.7" y1="257.62" x2="322.7" y2="257.62" stroke="#aaa" stroke-width="1"/>
<line x1="320.7" y1="244.84" x2="322.7" y2="244.84" stroke="#aaa" stroke-width="1"/>
<line x1="320.7" y1="232.07" x2="322.7" y2="232.07" stroke="#aaa" stroke-width="1"/>
<line x1="320.7" y1="219.29" x2="322.7" y2="219.29" stroke="#aaa" stroke-width="1"/>
<line x1="320.7" y1="206.51" x2="322.7" y2="206.51" stroke="#aaa" stroke-width="1"/>
<text class="t" x="317.2" y="387.4" font-size="11.5" fill="#111" text-anchor="end">0</text>
<text class="t" x="317.2" y="323.51" font-size="11.5" fill="#111" text-anchor="end">50</text>
<text class="t" x="317.2" y="259.62" font-size="11.5" fill="#111" text-anchor="end">100</text>
<text class="t" x="317.2" y="203.4" font-size="11.5" fill="#111" text-anchor="end">144</text>
<line x1="323.9" y1="385.4" x2="323.9" y2="390.4" stroke="#b0b0b0" stroke-width="1"/>
<text class="t" x="324.5" y="401.6" font-size="11.2" fill="#111" text-anchor="end">10</text>
<text class="t" x="324.9" y="394.4" font-size="5" fill="#dcdcdc">0</text>
<line x1="333.07" y1="385.4" x2="333.07" y2="387.9" stroke="#b8b8b8" stroke-width="1"/>
<line x1="338.44" y1="385.4" x2="338.44" y2="387.9" stroke="#b8b8b8" stroke-width="1"/>
<line x1="342.24" y1="385.4" x2="342.24" y2="387.9" stroke="#b8b8b8" stroke-width="1"/>
<line x1="345.2" y1="385.4" x2="345.2" y2="387.9" stroke="#b8b8b8" stroke-width="1"/>
<line x1="347.61" y1="385.4" x2="347.61" y2="387.9" stroke="#b8b8b8" stroke-width="1"/>
<line x1="349.65" y1="385.4" x2="349.65" y2="387.9" stroke="#b8b8b8" stroke-width="1"/>
<line x1="351.41" y1="385.4" x2="351.41" y2="387.9" stroke="#b8b8b8" stroke-width="1"/>
<line x1="352.97" y1="385.4" x2="352.97" y2="387.9" stroke="#b8b8b8" stroke-width="1"/>
<line x1="354.37" y1="385.4" x2="354.37" y2="390.4" stroke="#b0b0b0" stroke-width="1"/>
<text class="t" x="354.97" y="401.6" font-size="11.2" fill="#111" text-anchor="end">10</text>
<text class="t" x="355.37" y="394.4" font-size="5" fill="#dcdcdc">1</text>
<line x1="363.54" y1="385.4" x2="363.54" y2="387.9" stroke="#b8b8b8" stroke-width="1"/>
<line x1="368.9" y1="385.4" x2="368.9" y2="387.9" stroke="#b8b8b8" stroke-width="1"/>
<line x1="372.71" y1="385.4" x2="372.71" y2="387.9" stroke="#b8b8b8" stroke-width="1"/>
<line x1="375.66" y1="385.4" x2="375.66" y2="387.9" stroke="#b8b8b8" stroke-width="1"/>
<line x1="378.07" y1="385.4" x2="378.07" y2="387.9" stroke="#b8b8b8" stroke-width="1"/>
<line x1="380.11" y1="385.4" x2="380.11" y2="387.9" stroke="#b8b8b8" stroke-width="1"/>
<line x1="381.88" y1="385.4" x2="381.88" y2="387.9" stroke="#b8b8b8" stroke-width="1"/>
<line x1="383.44" y1="385.4" x2="383.44" y2="387.9" stroke="#b8b8b8" stroke-width="1"/>
<line x1="384.83" y1="385.4" x2="384.83" y2="390.4" stroke="#b0b0b0" stroke-width="1"/>
<text class="t" x="385.43" y="401.6" font-size="11.2" fill="#111" text-anchor="end">10</text>
<text class="t" x="385.83" y="394.4" font-size="5" fill="#dcdcdc">2</text>
<line x1="394" y1="385.4" x2="394" y2="387.9" stroke="#b8b8b8" stroke-width="1"/>
<line x1="399.37" y1="385.4" x2="399.37" y2="387.9" stroke="#b8b8b8" stroke-width="1"/>
<line x1="403.18" y1="385.4" x2="403.18" y2="387.9" stroke="#b8b8b8" stroke-width="1"/>
<line x1="406.13" y1="385.4" x2="406.13" y2="387.9" stroke="#b8b8b8" stroke-width="1"/>
<line x1="408.54" y1="385.4" x2="408.54" y2="387.9" stroke="#b8b8b8" stroke-width="1"/>
<line x1="410.58" y1="385.4" x2="410.58" y2="387.9" stroke="#b8b8b8" stroke-width="1"/>
<line x1="412.35" y1="385.4" x2="412.35" y2="387.9" stroke="#b8b8b8" stroke-width="1"/>
<line x1="413.91" y1="385.4" x2="413.91" y2="387.9" stroke="#b8b8b8" stroke-width="1"/>
<line x1="415.3" y1="385.4" x2="415.3" y2="390.4" stroke="#b0b0b0" stroke-width="1"/>
<text class="t" x="415.9" y="401.6" font-size="11.2" fill="#111" text-anchor="end">10</text>
<text class="t" x="416.3" y="394.4" font-size="5" fill="#dcdcdc">3</text>
<line x1="424.47" y1="385.4" x2="424.47" y2="387.9" stroke="#b8b8b8" stroke-width="1"/>
<line x1="429.84" y1="385.4" x2="429.84" y2="387.9" stroke="#b8b8b8" stroke-width="1"/>
<line x1="433.64" y1="385.4" x2="433.64" y2="387.9" stroke="#b8b8b8" stroke-width="1"/>
<line x1="436.6" y1="385.4" x2="436.6" y2="387.9" stroke="#b8b8b8" stroke-width="1"/>
<line x1="439.01" y1="385.4" x2="439.01" y2="387.9" stroke="#b8b8b8" stroke-width="1"/>
<line x1="441.05" y1="385.4" x2="441.05" y2="387.9" stroke="#b8b8b8" stroke-width="1"/>
<line x1="442.81" y1="385.4" x2="442.81" y2="387.9" stroke="#b8b8b8" stroke-width="1"/>
<line x1="444.37" y1="385.4" x2="444.37" y2="387.9" stroke="#b8b8b8" stroke-width="1"/>
<line x1="445.77" y1="385.4" x2="445.77" y2="390.4" stroke="#b0b0b0" stroke-width="1"/>
<text class="t" x="446.37" y="401.6" font-size="11.2" fill="#111" text-anchor="end">10</text>
<text class="t" x="446.77" y="394.4" font-size="5" fill="#dcdcdc">4</text>
<line x1="454.94" y1="385.4" x2="454.94" y2="387.9" stroke="#b8b8b8" stroke-width="1"/>
<line x1="460.3" y1="385.4" x2="460.3" y2="387.9" stroke="#b8b8b8" stroke-width="1"/>
<line x1="464.11" y1="385.4" x2="464.11" y2="387.9" stroke="#b8b8b8" stroke-width="1"/>
<line x1="467.06" y1="385.4" x2="467.06" y2="387.9" stroke="#b8b8b8" stroke-width="1"/>
<line x1="469.47" y1="385.4" x2="469.47" y2="387.9" stroke="#b8b8b8" stroke-width="1"/>
<line x1="471.51" y1="385.4" x2="471.51" y2="387.9" stroke="#b8b8b8" stroke-width="1"/>
<line x1="473.28" y1="385.4" x2="473.28" y2="387.9" stroke="#b8b8b8" stroke-width="1"/>
<line x1="474.84" y1="385.4" x2="474.84" y2="387.9" stroke="#b8b8b8" stroke-width="1"/>
<line x1="476.23" y1="385.4" x2="476.23" y2="390.4" stroke="#b0b0b0" stroke-width="1"/>
<text class="t" x="476.83" y="401.6" font-size="11.2" fill="#111" text-anchor="end">10</text>
<text class="t" x="477.23" y="394.4" font-size="5" fill="#dcdcdc">5</text>
<line x1="485.4" y1="385.4" x2="485.4" y2="387.9" stroke="#b8b8b8" stroke-width="1"/>
<line x1="490.77" y1="385.4" x2="490.77" y2="387.9" stroke="#b8b8b8" stroke-width="1"/>
<line x1="494.58" y1="385.4" x2="494.58" y2="387.9" stroke="#b8b8b8" stroke-width="1"/>
<line x1="497.53" y1="385.4" x2="497.53" y2="387.9" stroke="#b8b8b8" stroke-width="1"/>
<line x1="499.94" y1="385.4" x2="499.94" y2="387.9" stroke="#b8b8b8" stroke-width="1"/>
<line x1="501.98" y1="385.4" x2="501.98" y2="387.9" stroke="#b8b8b8" stroke-width="1"/>
<line x1="503.75" y1="385.4" x2="503.75" y2="387.9" stroke="#b8b8b8" stroke-width="1"/>
<line x1="505.31" y1="385.4" x2="505.31" y2="387.9" stroke="#b8b8b8" stroke-width="1"/>
<line x1="506.7" y1="385.4" x2="506.7" y2="390.4" stroke="#b0b0b0" stroke-width="1"/>
<text class="t" x="507.3" y="401.6" font-size="11.2" fill="#111" text-anchor="end">10</text>
<text class="t" x="507.7" y="394.4" font-size="5" fill="#dcdcdc">6</text>
<text class="t" transform="translate(294.7,293.4) rotate(-90)" font-size="14" fill="#222" text-anchor="middle">Count</text>
<text class="t" x="326.6" y="418.4" font-size="14" fill="#24243c" textLength="164.3" lengthAdjust="spacingAndGlyphs">Isotype-APC-H - Isotype -</text>
<text class="t" x="490.4" y="418.4" font-size="14" fill="#2a2a44">...</text>
<line x1="326.6" y1="420.3" x2="490.4" y2="420.3" stroke="#6a6a74" stroke-width="1.4"/>
<line x1="506.9" y1="201.4" x2="506.9" y2="385.4" stroke="#e6c0c4" stroke-width="1"/>
<line x1="415.7" y1="201.4" x2="415.7" y2="385.4" stroke="#4c1419" stroke-width="1.8"/>
<line x1="505.6" y1="201.4" x2="505.6" y2="385.4" stroke="#4c1419" stroke-width="1.8"/>
<line x1="415.7" y1="301.7" x2="505.9" y2="301.7" stroke="#4c1419" stroke-width="1.5"/>
<text class="s" x="416.3" y="298.1" font-size="14.1" fill="#4c1818" stroke="#4c1818" stroke-width="0.35" textLength="88" lengthAdjust="spacingAndGlyphs">R1: 4.964%</text></g>
<g><text class="t" x="624.6" y="179.9" font-size="13.8" fill="#222" textLength="155.4" lengthAdjust="spacing">FLU05191604 1 ug - R3</text>
<line x1="761" y1="182.5" x2="780.5" y2="182.5" stroke="#222" stroke-width="1"/>
<polyline points="698.3,384.8 698.4,385.4 698.5,385.2 698.7,385.4 698.8,385.2 698.9,385.4 699.0,383.7 699.2,384.5 699.3,383.6 699.4,382.6 699.5,384.5 699.7,385.4 699.8,385.4 699.9,385.4 700.0,384.9 700.2,384.0 700.3,385.4 700.4,383.4 700.5,385.4 700.7,383.2 700.8,383.7 700.9,383.9 701.0,383.3 701.2,384.0 701.3,384.0 701.4,385.4 701.5,382.5 701.7,378.4 701.8,377.8 701.9,378.8 702.0,379.9 702.2,382.8 702.3,377.3 702.4,380.7 702.5,380.4 702.7,380.7 702.8,379.2 702.9,380.3 703.0,378.9 703.2,381.6 703.3,378.9 703.4,369.5 703.5,376.8 703.7,376.8 703.8,373.4 703.9,372.0 704.0,378.4 704.2,374.2 704.3,368.7 704.4,370.6 704.5,370.4 704.7,362.9 704.8,372.3 704.9,367.8 705.0,369.7 705.2,358.4 705.3,375.3 705.4,367.5 705.5,365.6 705.7,357.6 705.8,356.5 705.9,350.3 706.0,367.1 706.2,351.1 706.3,356.2 706.4,357.2 706.5,347.4 706.7,355.9 706.8,362.6 706.9,348.6 707.0,355.3 707.2,347.1 707.3,337.3 707.4,335.7 707.5,323.1 707.7,335.6 707.8,344.9 707.9,336.2 708.0,335.5 708.2,336.0 708.3,318.6 708.4,326.3 708.5,336.7 708.7,308.4 708.8,313.8 708.9,306.5 709.0,306.4 709.2,298.2 709.3,301.8 709.4,286.1 709.5,292.1 709.7,289.7 709.8,286.7 709.9,305.4 710.0,287.8 710.2,286.2 710.3,277.9 710.4,294.1 710.5,254.9 710.7,270.9 710.8,284.8 710.9,288.7 711.0,267.9 711.2,262.9 711.3,268.6 711.4,255.5 711.5,262.8 711.7,244.4 711.8,259.4 711.9,247.8 712.0,231.6 712.2,207.1 712.3,255.1 712.4,245.6 712.5,249.1 712.7,224.2 712.8,201.4 712.9,239.2 713.0,231.2 713.2,243.7 713.3,242.2 713.4,234.0 713.5,257.0 713.7,246.5 713.8,230.4 713.9,221.5 714.0,225.9 714.2,249.2 714.3,229.4 714.4,210.4 714.5,209.0 714.7,218.7 714.8,231.2 714.9,208.6 715.0,227.4 715.2,236.9 715.3,232.0 715.4,201.4 715.5,201.4 715.7,205.4 715.8,230.9 715.9,211.1 716.0,235.1 716.2,230.0 716.3,201.4 716.4,219.6 716.5,239.6 716.7,235.4 716.8,231.3 716.9,220.7 717.0,246.7 717.2,266.2 717.3,247.8 717.4,245.9 717.5,246.8 717.7,232.7 717.8,248.6 717.9,244.4 718.0,272.2 718.2,248.7 718.3,235.4 718.4,255.1 718.5,264.3 718.7,268.1 718.8,250.4 718.9,286.5 719.0,279.0 719.2,274.7 719.3,274.0 719.4,290.5 719.5,284.3 719.7,293.6 719.8,291.6 719.9,296.9 720.0,310.4 720.2,300.6 720.3,293.5 720.4,315.4 720.5,310.1 720.7,303.3 720.8,323.0 720.9,312.8 721.0,327.1 721.2,308.2 721.3,299.6 721.4,304.7 721.5,327.4 721.7,320.9 721.8,328.4 721.9,330.5 722.0,320.2 722.2,346.0 722.3,328.3 722.4,339.0 722.5,329.3 722.7,340.6 722.8,348.7 722.9,343.1 723.0,341.3 723.2,347.9 723.3,346.1 723.4,354.5 723.5,366.6 723.7,347.6 723.8,350.2 723.9,355.0 724.0,356.7 724.2,351.9 724.3,362.0 724.4,364.4 724.5,362.4 724.7,355.5 724.8,370.8 724.9,357.5 725.0,368.2 725.2,371.3 725.3,360.0 725.4,367.6 725.5,374.2 725.7,370.2 725.8,364.8 725.9,364.3 726.0,372.3 726.2,369.1 726.3,368.4 726.4,374.7 726.5,371.0 726.7,373.1 726.8,375.6 726.9,375.8 727.0,374.0 727.2,374.5 727.3,377.1 727.4,376.9 727.5,371.7 727.7,375.3 727.8,373.2 727.9,372.5 728.0,374.9 728.2,369.6 728.3,380.2 728.4,375.1 728.5,379.0 728.7,372.4 728.8,373.2 728.9,384.6 729.0,381.7 729.2,377.1 729.3,376.9 729.4,377.3 729.5,379.8 729.7,378.5 729.8,378.1 729.9,380.3 730.0,377.5 730.2,385.4 730.3,378.8 730.4,383.3 730.5,378.3 730.7,381.4 730.8,383.2 730.9,380.2 731.0,383.4 731.2,383.5 731.3,385.1 731.4,381.6 731.5,380.5 731.7,379.4 731.8,382.1 731.9,379.6 732.0,382.0 732.2,382.3 732.3,381.0 732.4,380.1 732.5,383.0 732.7,382.9 732.8,382.8 732.9,382.4 733.0,384.4 733.2,380.7 733.3,383.5 733.4,382.0 733.5,384.4 733.7,382.3 733.8,382.3 733.9,383.8 734.0,379.6 734.2,382.6 734.3,380.2 734.4,381.7 734.5,384.5 734.7,384.0 734.8,382.8 734.9,383.4 735.0,383.5 735.2,384.1 735.3,385.4 735.4,384.0 735.5,385.4 735.7,383.2 735.8,384.9 735.9,384.9 736.0,384.2 736.2,383.6 736.3,385.4 736.4,385.4 736.5,385.4 736.7,385.4 736.8,385.4 736.9,382.1 737.0,385.4 737.2,383.4 737.3,385.4 737.4,383.9 737.5,384.7 737.7,384.4 737.8,383.7 737.9,382.3 738.0,384.2 738.2,384.3 738.3,385.4 738.4,383.8 738.5,384.8 738.7,383.6 738.8,384.6 738.9,382.7 739.0,385.4 739.2,384.9 739.3,383.7 739.4,385.0 739.5,385.4 739.7,384.9 739.8,385.4 739.9,384.6 740.0,382.4 740.2,383.7 740.3,385.4 740.4,385.4 740.5,385.2 740.7,383.9 740.8,385.4 740.9,385.4 741.0,384.1 741.2,384.1 741.3,385.2 741.4,385.4 741.5,385.4 741.7,385.4 741.8,385.4 741.9,384.3 742.0,385.4 742.2,384.6 742.3,383.5 742.4,384.1 742.5,385.4 742.7,384.3 742.8,384.1 742.9,385.4 743.0,385.4 743.2,385.1 743.3,385.4" fill="none" stroke="#f8e27c" stroke-width="3" stroke-linejoin="round" opacity="0.45"/>
<polyline points="698.3,384.8 698.4,385.4 698.5,385.2 698.7,385.4 698.8,385.2 698.9,385.4 699.0,383.7 699.2,384.5 699.3,383.6 699.4,382.6 699.5,384.5 699.7,385.4 699.8,385.4 699.9,385.4 700.0,384.9 700.2,384.0 700.3,385.4 700.4,383.4 700.5,385.4 700.7,383.2 700.8,383.7 700.9,383.9 701.0,383.3 701.2,384.0 701.3,384.0 701.4,385.4 701.5,382.5 701.7,378.4 701.8,377.8 701.9,378.8 702.0,379.9 702.2,382.8 702.3,377.3 702.4,380.7 702.5,380.4 702.7,380.7 702.8,379.2 702.9,380.3 703.0,378.9 703.2,381.6 703.3,378.9 703.4,369.5 703.5,376.8 703.7,376.8 703.8,373.4 703.9,372.0 704.0,378.4 704.2,374.2 704.3,368.7 704.4,370.6 704.5,370.4 704.7,362.9 704.8,372.3 704.9,367.8 705.0,369.7 705.2,358.4 705.3,375.3 705.4,367.5 705.5,365.6 705.7,357.6 705.8,356.5 705.9,350.3 706.0,367.1 706.2,351.1 706.3,356.2 706.4,357.2 706.5,347.4 706.7,355.9 706.8,362.6 706.9,348.6 707.0,355.3 707.2,347.1 707.3,337.3 707.4,335.7 707.5,323.1 707.7,335.6 707.8,344.9 707.9,336.2 708.0,335.5 708.2,336.0 708.3,318.6 708.4,326.3 708.5,336.7 708.7,308.4 708.8,313.8 708.9,306.5 709.0,306.4 709.2,298.2 709.3,301.8 709.4,286.1 709.5,292.1 709.7,289.7 709.8,286.7 709.9,305.4 710.0,287.8 710.2,286.2 710.3,277.9 710.4,294.1 710.5,254.9 710.7,270.9 710.8,284.8 710.9,288.7 711.0,267.9 711.2,262.9 711.3,268.6 711.4,255.5 711.5,262.8 711.7,244.4 711.8,259.4 711.9,247.8 712.0,231.6 712.2,207.1 712.3,255.1 712.4,245.6 712.5,249.1 712.7,224.2 712.8,201.4 712.9,239.2 713.0,231.2 713.2,243.7 713.3,242.2 713.4,234.0 713.5,257.0 713.7,246.5 713.8,230.4 713.9,221.5 714.0,225.9 714.2,249.2 714.3,229.4 714.4,210.4 714.5,209.0 714.7,218.7 714.8,231.2 714.9,208.6 715.0,227.4 715.2,236.9 715.3,232.0 715.4,201.4 715.5,201.4 715.7,205.4 715.8,230.9 715.9,211.1 716.0,235.1 716.2,230.0 716.3,201.4 716.4,219.6 716.5,239.6 716.7,235.4 716.8,231.3 716.9,220.7 717.0,246.7 717.2,266.2 717.3,247.8 717.4,245.9 717.5,246.8 717.7,232.7 717.8,248.6 717.9,244.4 718.0,272.2 718.2,248.7 718.3,235.4 718.4,255.1 718.5,264.3 718.7,268.1 718.8,250.4 718.9,286.5 719.0,279.0 719.2,274.7 719.3,274.0 719.4,290.5 719.5,284.3 719.7,293.6 719.8,291.6 719.9,296.9 720.0,310.4 720.2,300.6 720.3,293.5 720.4,315.4 720.5,310.1 720.7,303.3 720.8,323.0 720.9,312.8 721.0,327.1 721.2,308.2 721.3,299.6 721.4,304.7 721.5,327.4 721.7,320.9 721.8,328.4 721.9,330.5 722.0,320.2 722.2,346.0 722.3,328.3 722.4,339.0 722.5,329.3 722.7,340.6 722.8,348.7 722.9,343.1 723.0,341.3 723.2,347.9 723.3,346.1 723.4,354.5 723.5,366.6 723.7,347.6 723.8,350.2 723.9,355.0 724.0,356.7 724.2,351.9 724.3,362.0 724.4,364.4 724.5,362.4 724.7,355.5 724.8,370.8 724.9,357.5 725.0,368.2 725.2,371.3 725.3,360.0 725.4,367.6 725.5,374.2 725.7,370.2 725.8,364.8 725.9,364.3 726.0,372.3 726.2,369.1 726.3,368.4 726.4,374.7 726.5,371.0 726.7,373.1 726.8,375.6 726.9,375.8 727.0,374.0 727.2,374.5 727.3,377.1 727.4,376.9 727.5,371.7 727.7,375.3 727.8,373.2 727.9,372.5 728.0,374.9 728.2,369.6 728.3,380.2 728.4,375.1 728.5,379.0 728.7,372.4 728.8,373.2 728.9,384.6 729.0,381.7 729.2,377.1 729.3,376.9 729.4,377.3 729.5,379.8 729.7,378.5 729.8,378.1 729.9,380.3 730.0,377.5 730.2,385.4 730.3,378.8 730.4,383.3 730.5,378.3 730.7,381.4 730.8,383.2 730.9,380.2 731.0,383.4 731.2,383.5 731.3,385.1 731.4,381.6 731.5,380.5 731.7,379.4 731.8,382.1 731.9,379.6 732.0,382.0 732.2,382.3 732.3,381.0 732.4,380.1 732.5,383.0 732.7,382.9 732.8,382.8 732.9,382.4 733.0,384.4 733.2,380.7 733.3,383.5 733.4,382.0 733.5,384.4 733.7,382.3 733.8,382.3 733.9,383.8 734.0,379.6 734.2,382.6 734.3,380.2 734.4,381.7 734.5,384.5 734.7,384.0 734.8,382.8 734.9,383.4 735.0,383.5 735.2,384.1 735.3,385.4 735.4,384.0 735.5,385.4 735.7,383.2 735.8,384.9 735.9,384.9 736.0,384.2 736.2,383.6 736.3,385.4 736.4,385.4 736.5,385.4 736.7,385.4 736.8,385.4 736.9,382.1 737.0,385.4 737.2,383.4 737.3,385.4 737.4,383.9 737.5,384.7 737.7,384.4 737.8,383.7 737.9,382.3 738.0,384.2 738.2,384.3 738.3,385.4 738.4,383.8 738.5,384.8 738.7,383.6 738.8,384.6 738.9,382.7 739.0,385.4 739.2,384.9 739.3,383.7 739.4,385.0 739.5,385.4 739.7,384.9 739.8,385.4 739.9,384.6 740.0,382.4 740.2,383.7 740.3,385.4 740.4,385.4 740.5,385.2 740.7,383.9 740.8,385.4 740.9,385.4 741.0,384.1 741.2,384.1 741.3,385.2 741.4,385.4 741.5,385.4 741.7,385.4 741.8,385.4 741.9,384.3 742.0,385.4 742.2,384.6 742.3,383.5 742.4,384.1 742.5,385.4 742.7,384.3 742.8,384.1 742.9,385.4 743.0,385.4 743.2,385.1 743.3,385.4" fill="none" stroke="#e8bf1c" stroke-width="1.05" stroke-linejoin="round"/>
<line x1="604.6" y1="201.4" x2="792.8" y2="201.4" stroke="#a0a0a0" stroke-width="1"/>
<line x1="608.6" y1="201.4" x2="608.6" y2="385.4" stroke="#a0a0a0" stroke-width="1"/>
<line x1="604.6" y1="385.4" x2="792.6" y2="385.4" stroke="#a0a0a0" stroke-width="1"/>
<line x1="604.6" y1="385.4" x2="608.6" y2="385.4" stroke="#aaa" stroke-width="1"/>
<line x1="606.6" y1="375.92" x2="608.6" y2="375.92" stroke="#aaa" stroke-width="1"/>
<line x1="606.6" y1="366.43" x2="608.6" y2="366.43" stroke="#aaa" stroke-width="1"/>
<line x1="606.6" y1="356.95" x2="608.6" y2="356.95" stroke="#aaa" stroke-width="1"/>
<line x1="606.6" y1="347.46" x2="608.6" y2="347.46" stroke="#aaa" stroke-width="1"/>
<line x1="604.6" y1="337.98" x2="608.6" y2="337.98" stroke="#aaa" stroke-width="1"/>
<line x1="606.6" y1="328.49" x2="608.6" y2="328.49" stroke="#aaa" stroke-width="1"/>
<line x1="606.6" y1="319.01" x2="608.6" y2="319.01" stroke="#aaa" stroke-width="1"/>
<line x1="606.6" y1="309.52" x2="608.6" y2="309.52" stroke="#aaa" stroke-width="1"/>
<line x1="606.6" y1="300.04" x2="608.6" y2="300.04" stroke="#aaa" stroke-width="1"/>
<line x1="604.6" y1="290.55" x2="608.6" y2="290.55" stroke="#aaa" stroke-width="1"/>
<line x1="606.6" y1="281.07" x2="608.6" y2="281.07" stroke="#aaa" stroke-width="1"/>
<line x1="606.6" y1="271.59" x2="608.6" y2="271.59" stroke="#aaa" stroke-width="1"/>
<line x1="606.6" y1="262.1" x2="608.6" y2="262.1" stroke="#aaa" stroke-width="1"/>
<line x1="606.6" y1="252.62" x2="608.6" y2="252.62" stroke="#aaa" stroke-width="1"/>
<line x1="604.6" y1="243.13" x2="608.6" y2="243.13" stroke="#aaa" stroke-width="1"/>
<line x1="606.6" y1="233.65" x2="608.6" y2="233.65" stroke="#aaa" stroke-width="1"/>
<line x1="606.6" y1="224.16" x2="608.6" y2="224.16" stroke="#aaa" stroke-width="1"/>
<line x1="606.6" y1="214.68" x2="608.6" y2="214.68" stroke="#aaa" stroke-width="1"/>
<line x1="606.6" y1="205.19" x2="608.6" y2="205.19" stroke="#aaa" stroke-width="1"/>
<text class="t" x="603.1" y="387.4" font-size="11.5" fill="#111" text-anchor="end">0</text>
<text class="t" x="603.1" y="339.98" font-size="11.5" fill="#111" text-anchor="end">50</text>
<text class="t" x="603.1" y="292.55" font-size="11.5" fill="#111" text-anchor="end">100</text>
<text class="t" x="603.1" y="245.13" font-size="11.5" fill="#111" text-anchor="end">150</text>
<text class="t" x="603.1" y="203.4" font-size="11.5" fill="#111" text-anchor="end">194</text>
<line x1="609.8" y1="385.4" x2="609.8" y2="390.4" stroke="#b0b0b0" stroke-width="1"/>
<text class="t" x="610.4" y="401.6" font-size="11.2" fill="#111" text-anchor="end">10</text>
<text class="t" x="610.8" y="394.4" font-size="5" fill="#dcdcdc">0</text>
<line x1="618.96" y1="385.4" x2="618.96" y2="387.9" stroke="#b8b8b8" stroke-width="1"/>
<line x1="624.32" y1="385.4" x2="624.32" y2="387.9" stroke="#b8b8b8" stroke-width="1"/>
<line x1="628.12" y1="385.4" x2="628.12" y2="387.9" stroke="#b8b8b8" stroke-width="1"/>
<line x1="631.07" y1="385.4" x2="631.07" y2="387.9" stroke="#b8b8b8" stroke-width="1"/>
<line x1="633.48" y1="385.4" x2="633.48" y2="387.9" stroke="#b8b8b8" stroke-width="1"/>
<line x1="635.52" y1="385.4" x2="635.52" y2="387.9" stroke="#b8b8b8" stroke-width="1"/>
<line x1="637.28" y1="385.4" x2="637.28" y2="387.9" stroke="#b8b8b8" stroke-width="1"/>
<line x1="638.84" y1="385.4" x2="638.84" y2="387.9" stroke="#b8b8b8" stroke-width="1"/>
<line x1="640.23" y1="385.4" x2="640.23" y2="390.4" stroke="#b0b0b0" stroke-width="1"/>
<text class="t" x="640.83" y="401.6" font-size="11.2" fill="#111" text-anchor="end">10</text>
<text class="t" x="641.23" y="394.4" font-size="5" fill="#dcdcdc">1</text>
<line x1="649.39" y1="385.4" x2="649.39" y2="387.9" stroke="#b8b8b8" stroke-width="1"/>
<line x1="654.75" y1="385.4" x2="654.75" y2="387.9" stroke="#b8b8b8" stroke-width="1"/>
<line x1="658.56" y1="385.4" x2="658.56" y2="387.9" stroke="#b8b8b8" stroke-width="1"/>
<line x1="661.51" y1="385.4" x2="661.51" y2="387.9" stroke="#b8b8b8" stroke-width="1"/>
<line x1="663.92" y1="385.4" x2="663.92" y2="387.9" stroke="#b8b8b8" stroke-width="1"/>
<line x1="665.95" y1="385.4" x2="665.95" y2="387.9" stroke="#b8b8b8" stroke-width="1"/>
<line x1="667.72" y1="385.4" x2="667.72" y2="387.9" stroke="#b8b8b8" stroke-width="1"/>
<line x1="669.27" y1="385.4" x2="669.27" y2="387.9" stroke="#b8b8b8" stroke-width="1"/>
<line x1="670.67" y1="385.4" x2="670.67" y2="390.4" stroke="#b0b0b0" stroke-width="1"/>
<text class="t" x="671.27" y="401.6" font-size="11.2" fill="#111" text-anchor="end">10</text>
<text class="t" x="671.67" y="394.4" font-size="5" fill="#dcdcdc">2</text>
<line x1="679.83" y1="385.4" x2="679.83" y2="387.9" stroke="#b8b8b8" stroke-width="1"/>
<line x1="685.19" y1="385.4" x2="685.19" y2="387.9" stroke="#b8b8b8" stroke-width="1"/>
<line x1="688.99" y1="385.4" x2="688.99" y2="387.9" stroke="#b8b8b8" stroke-width="1"/>
<line x1="691.94" y1="385.4" x2="691.94" y2="387.9" stroke="#b8b8b8" stroke-width="1"/>
<line x1="694.35" y1="385.4" x2="694.35" y2="387.9" stroke="#b8b8b8" stroke-width="1"/>
<line x1="696.39" y1="385.4" x2="696.39" y2="387.9" stroke="#b8b8b8" stroke-width="1"/>
<line x1="698.15" y1="385.4" x2="698.15" y2="387.9" stroke="#b8b8b8" stroke-width="1"/>
<line x1="699.71" y1="385.4" x2="699.71" y2="387.9" stroke="#b8b8b8" stroke-width="1"/>
<line x1="701.1" y1="385.4" x2="701.1" y2="390.4" stroke="#b0b0b0" stroke-width="1"/>
<text class="t" x="701.7" y="401.6" font-size="11.2" fill="#111" text-anchor="end">10</text>
<text class="t" x="702.1" y="394.4" font-size="5" fill="#dcdcdc">3</text>
<line x1="710.26" y1="385.4" x2="710.26" y2="387.9" stroke="#b8b8b8" stroke-width="1"/>
<line x1="715.62" y1="385.4" x2="715.62" y2="387.9" stroke="#b8b8b8" stroke-width="1"/>
<line x1="719.42" y1="385.4" x2="719.42" y2="387.9" stroke="#b8b8b8" stroke-width="1"/>
<line x1="722.37" y1="385.4" x2="722.37" y2="387.9" stroke="#b8b8b8" stroke-width="1"/>
<line x1="724.78" y1="385.4" x2="724.78" y2="387.9" stroke="#b8b8b8" stroke-width="1"/>
<line x1="726.82" y1="385.4" x2="726.82" y2="387.9" stroke="#b8b8b8" stroke-width="1"/>
<line x1="728.58" y1="385.4" x2="728.58" y2="387.9" stroke="#b8b8b8" stroke-width="1"/>
<line x1="730.14" y1="385.4" x2="730.14" y2="387.9" stroke="#b8b8b8" stroke-width="1"/>
<line x1="731.53" y1="385.4" x2="731.53" y2="390.4" stroke="#b0b0b0" stroke-width="1"/>
<text class="t" x="732.13" y="401.6" font-size="11.2" fill="#111" text-anchor="end">10</text>
<text class="t" x="732.53" y="394.4" font-size="5" fill="#dcdcdc">4</text>
<line x1="740.69" y1="385.4" x2="740.69" y2="387.9" stroke="#b8b8b8" stroke-width="1"/>
<line x1="746.05" y1="385.4" x2="746.05" y2="387.9" stroke="#b8b8b8" stroke-width="1"/>
<line x1="749.86" y1="385.4" x2="749.86" y2="387.9" stroke="#b8b8b8" stroke-width="1"/>
<line x1="752.81" y1="385.4" x2="752.81" y2="387.9" stroke="#b8b8b8" stroke-width="1"/>
<line x1="755.22" y1="385.4" x2="755.22" y2="387.9" stroke="#b8b8b8" stroke-width="1"/>
<line x1="757.25" y1="385.4" x2="757.25" y2="387.9" stroke="#b8b8b8" stroke-width="1"/>
<line x1="759.02" y1="385.4" x2="759.02" y2="387.9" stroke="#b8b8b8" stroke-width="1"/>
<line x1="760.57" y1="385.4" x2="760.57" y2="387.9" stroke="#b8b8b8" stroke-width="1"/>
<line x1="761.97" y1="385.4" x2="761.97" y2="390.4" stroke="#b0b0b0" stroke-width="1"/>
<text class="t" x="762.57" y="401.6" font-size="11.2" fill="#111" text-anchor="end">10</text>
<text class="t" x="762.97" y="394.4" font-size="5" fill="#dcdcdc">5</text>
<line x1="771.13" y1="385.4" x2="771.13" y2="387.9" stroke="#b8b8b8" stroke-width="1"/>
<line x1="776.49" y1="385.4" x2="776.49" y2="387.9" stroke="#b8b8b8" stroke-width="1"/>
<line x1="780.29" y1="385.4" x2="780.29" y2="387.9" stroke="#b8b8b8" stroke-width="1"/>
<line x1="783.24" y1="385.4" x2="783.24" y2="387.9" stroke="#b8b8b8" stroke-width="1"/>
<line x1="785.65" y1="385.4" x2="785.65" y2="387.9" stroke="#b8b8b8" stroke-width="1"/>
<line x1="787.69" y1="385.4" x2="787.69" y2="387.9" stroke="#b8b8b8" stroke-width="1"/>
<line x1="789.45" y1="385.4" x2="789.45" y2="387.9" stroke="#b8b8b8" stroke-width="1"/>
<line x1="791.01" y1="385.4" x2="791.01" y2="387.9" stroke="#b8b8b8" stroke-width="1"/>
<line x1="792.4" y1="385.4" x2="792.4" y2="390.4" stroke="#b0b0b0" stroke-width="1"/>
<text class="t" x="793" y="401.6" font-size="11.2" fill="#111" text-anchor="end">10</text>
<text class="t" x="793.4" y="394.4" font-size="5" fill="#dcdcdc">6</text>
<text class="t" transform="translate(580.6,293.4) rotate(-90)" font-size="14" fill="#222" text-anchor="middle">Count</text>
<text class="t" x="609.6" y="418.4" font-size="14" fill="#24243c" textLength="169.2" lengthAdjust="spacingAndGlyphs">PRDX5-APC-H - PRDX5 - A</text>
<text class="t" x="778.2" y="418.4" font-size="14" fill="#2a2a44">...</text>
<line x1="609.6" y1="420.3" x2="778.2" y2="420.3" stroke="#6a6a74" stroke-width="1.4"/>
<line x1="792.6" y1="201.4" x2="792.6" y2="385.4" stroke="#e6c0c4" stroke-width="1"/>
<line x1="701.9" y1="201.4" x2="701.9" y2="385.4" stroke="#4c1419" stroke-width="1.8"/>
<line x1="791.3" y1="201.4" x2="791.3" y2="385.4" stroke="#4c1419" stroke-width="1.8"/>
<line x1="701.9" y1="301.4" x2="791.6" y2="301.4" stroke="#4c1419" stroke-width="1.5"/>
<text class="s" x="690.6" y="297.8" font-size="14.1" fill="#4c1818" stroke="#4c1818" stroke-width="0.35" textLength="98.2" lengthAdjust="spacingAndGlyphs">R1: 99.688%</text></g>
</svg></body></html>
